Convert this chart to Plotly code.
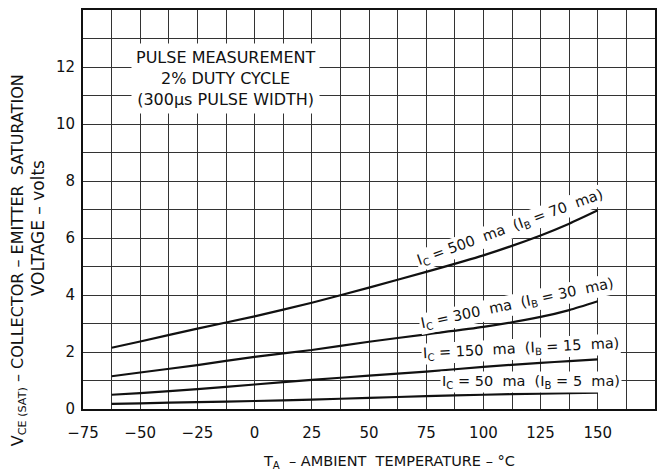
import plotly.graph_objects as go

temps = [-62.5, -50, -25, 0, 25, 50, 75, 100, 125, 137.5, 150]
v_500 = [2.15, 2.37, 2.82, 3.25, 3.73, 4.26, 4.81, 5.39, 6.09, 6.50, 6.97]
v_300 = [1.15, 1.28, 1.54, 1.83, 2.07, 2.36, 2.62, 2.88, 3.23, 3.47, 3.78]
v_150 = [0.50, 0.56, 0.70, 0.86, 1.02, 1.17, 1.31, 1.48, 1.62, 1.68, 1.74]
v_50 = [0.18, 0.20, 0.24, 0.28, 0.33, 0.39, 0.45, 0.50, 0.54, 0.56, 0.57]

x_ticks = [-75, -50, -25, 0, 25, 50, 75, 100, 125, 150]
y_ticks = [0, 2, 4, 6, 8, 10, 12]

labels = [
    ("I<sub>C</sub> = 500  ma  (I<sub>B</sub> = 70  ma)", 111.6, 6.36, -20),
    ("I<sub>C</sub> = 300  ma  (I<sub>B</sub> = 30  ma)", 114.8, 3.70, -12),
    ("I<sub>C</sub> = 150  ma  (I<sub>B</sub> = 15  ma)", 116.5, 2.10, -3),
    ("I<sub>C</sub> = 50  ma  (I<sub>B</sub> = 5  ma)", 120.7, 0.95, 0),
]

FONT = "DejaVu Sans"
INK = "#111"
fig = go.Figure()
for v in [v_500, v_300, v_150, v_50]:
    fig.add_trace(go.Scatter(x=temps, y=v, mode="lines",
                             line=dict(color=INK, width=2.2, shape="spline", smoothing=0.6),
                             showlegend=False, hoverinfo="skip"))

for text, x, y, ang in labels:
    fig.add_annotation(x=x, y=y, text=text, textangle=ang, showarrow=False,
                       bgcolor="white", borderpad=1,
                       font=dict(family=FONT, size=14.5, color=INK))

fig.add_annotation(x=-12.6, y=11.6,
                   text="PULSE MEASUREMENT<br>2% DUTY CYCLE<br>(300µs PULSE WIDTH)",
                   showarrow=False, bgcolor="white", borderpad=4, align="center",
                   font=dict(family=FONT, size=16, color=INK))

# axis titles
fig.add_annotation(xref="paper", yref="paper", x=0.535, y=-0.133,
                   xanchor="center", yanchor="middle",
                   text="T<sub>A</sub>  – AMBIENT  TEMPERATURE – °C", showarrow=False,
                   font=dict(family=FONT, size=14.5, color=INK))
fig.add_annotation(xref="paper", yref="paper", x=-0.1136, y=0.373, textangle=-90,
                   xanchor="center", yanchor="middle",
                   text="V<sub>CE (SAT)</sub> – COLLECTOR – EMITTER  SATURATION", showarrow=False,
                   font=dict(family=FONT, size=16, color=INK))
fig.add_annotation(xref="paper", yref="paper", x=-0.0787, y=0.453, textangle=-90,
                   xanchor="center", yanchor="middle",
                   text="VOLTAGE – volts", showarrow=False,
                   font=dict(family=FONT, size=17, color=INK))

grid_col = "#333"
fig.update_xaxes(range=[-75, 175], tickvals=x_ticks, showgrid=True, gridcolor=grid_col,
                 gridwidth=1, zeroline=False, showline=True, linecolor=INK, linewidth=2,
                 mirror=True, ticks="", tickfont=dict(family=FONT, size=15, color=INK),
                 ticklabelstandoff=9,
                 minor=dict(dtick=12.5, tick0=-75, showgrid=True, gridcolor=grid_col, gridwidth=1),
                 automargin=False)
fig.update_yaxes(range=[0, 14], tickvals=y_ticks, showgrid=True, gridcolor=grid_col,
                 gridwidth=1, zeroline=False, showline=True, linecolor=INK, linewidth=2,
                 mirror=True, ticks="", tickfont=dict(family=FONT, size=15, color=INK),
                 ticklabelstandoff=3,
                 minor=dict(dtick=1, tick0=0, showgrid=True, gridcolor=grid_col, gridwidth=1),
                 automargin=False)

fig.update_layout(width=668, height=474, margin=dict(l=83, r=13, t=10, b=65),
                  paper_bgcolor="white", plot_bgcolor="white")
fig.write_html("out.html", config={"displayModeBar": False},
               post_script="document.body.style.margin='0';document.body.style.padding='0';")
